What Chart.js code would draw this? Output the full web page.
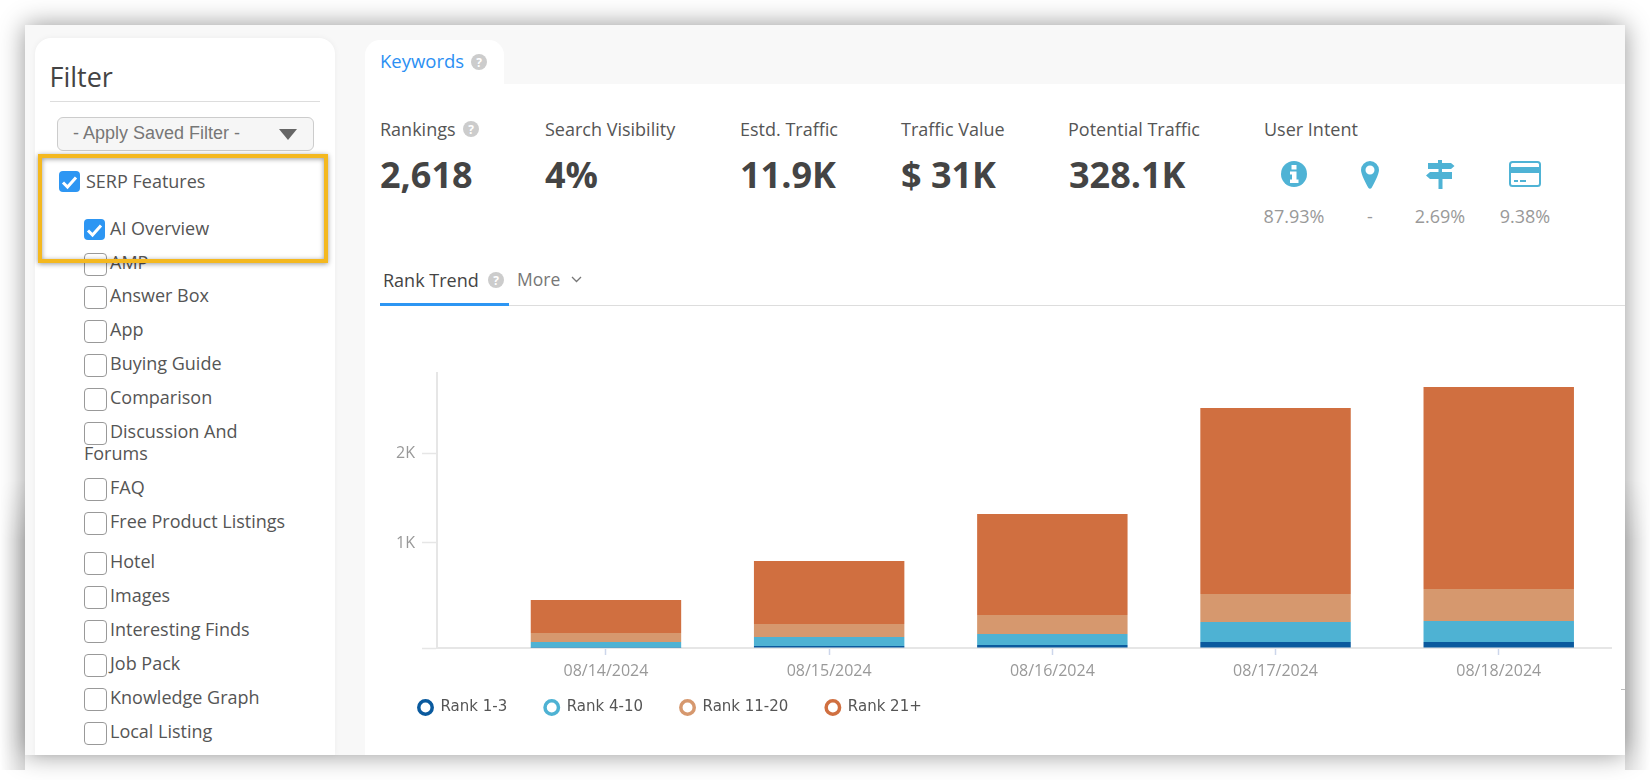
<!DOCTYPE html>
<html>
<head>
<meta charset="utf-8">
<script src="https://cdn.jsdelivr.net/npm/chart.js@4/dist/chart.umd.min.js"></script>
<style>
html,body{margin:0;padding:0;background:#fff;width:1650px;height:780px;overflow:hidden;font-family:"Open Sans",sans-serif;color:#555}
.abs,.abs *{box-sizing:border-box}
.abs{position:absolute}
#card{left:25px;top:25px;width:1600px;height:730px;background:#f8f8f8;box-shadow:0 0 24px rgba(0,0,0,.42)}
#side{left:35px;top:38px;width:300px;height:717px;background:#fff;border-radius:16px 16px 0 0;box-shadow:0 0 6px rgba(0,0,0,.05)}
#main{left:365px;top:84px;width:1260px;height:671px;background:#fff}
#tab{left:365px;top:40px;width:139px;height:44px;background:#fff;border-radius:15px 15px 0 0}
.t{position:absolute;white-space:nowrap;line-height:1}
.cb{position:absolute;width:21px;height:21px;border:1.5px solid #999;border-radius:4px;background:#fff}
.cb.on{background:#2d96f3;border:none}
.cb.on svg{position:absolute;left:2px;top:4px}
.item{font-size:18px;color:#555}
.lab{font-size:18px;color:#555}
.val{font-size:36px;font-weight:700;color:#444}
.pct{font-size:18px;color:#999;transform:translateX(-50%)}
.fade{-webkit-mask-image:linear-gradient(to bottom,transparent,#000 60px);mask-image:linear-gradient(to bottom,transparent,#000 60px)}
canvas{position:absolute;left:381px;top:355px}
</style>
</head>
<body>
<div class="abs fade" id="shadeL" style="left:0;top:480px;width:25px;height:290px;background:linear-gradient(90deg,rgba(0,0,0,0),rgba(0,0,0,.14))"></div>
<div class="abs fade" id="shadeR" style="left:1625px;top:480px;width:25px;height:290px;background:linear-gradient(270deg,rgba(0,0,0,0),rgba(0,0,0,.12))"></div>
<div class="abs" id="card"></div>
<div class="abs" id="side"></div>
<div class="abs" id="main"></div>
<div class="abs" id="tab"></div>

<div class="t" style="left:49.500px;top:63px;font-size:27px;color:#444">Filter</div>
<div class="abs" style="left:50px;top:101px;width:270px;height:1px;background:#ddd"></div>
<div class="abs" style="left:57px;top:117px;width:257px;height:34px;border:1px solid #ccc;border-radius:6px;background:#f6f6f6"></div>
<div class="t" style="left:73px;top:124px;font-family:'Liberation Sans',sans-serif;font-size:18px;color:#777">- Apply Saved Filter -</div>
<svg class="abs" style="left:279px;top:129px" width="18" height="11"><path d="M0 0H18L9 11Z" fill="#666"/></svg>

<div id="filters"></div>

<div class="abs" style="left:38px;top:154px;width:290px;height:109px;border:4px solid #f4b81f;box-shadow:0 1px 5px rgba(0,0,0,.4),inset 0 1px 5px rgba(0,0,0,.4)"></div>

<div class="t" style="left:380px;top:52px;font-size:18.500px;color:#2b8ff3">Keywords</div>
<svg class="abs q" style="left:471px;top:54px" width="16" height="16"><circle cx="8" cy="8" r="8" fill="#ccc"/><text x="8" y="12.5" text-anchor="middle" font-family="Open Sans" font-weight="700" font-size="12" fill="#fff">?</text></svg>

<div class="t lab" style="left:380px;top:120px">Rankings</div>
<svg class="abs q" style="left:463px;top:121px" width="16" height="16"><circle cx="8" cy="8" r="8" fill="#ccc"/><text x="8" y="12.5" text-anchor="middle" font-family="Open Sans" font-weight="700" font-size="12" fill="#fff">?</text></svg>
<div class="t lab" style="left:545px;top:120px">Search Visibility</div>
<div class="t lab" style="left:740px;top:120px">Estd. Traffic</div>
<div class="t lab" style="left:901px;top:120px">Traffic Value</div>
<div class="t lab" style="left:1068px;top:120px">Potential Traffic</div>
<div class="t lab" style="left:1264px;top:120px">User Intent</div>

<div class="t val" style="left:380px;top:157px">2,618</div>
<div class="t val" style="left:545px;top:157px">4%</div>
<div class="t val" style="left:740px;top:157px">11.9K</div>
<div class="t val" style="left:901px;top:157px">$ 31K</div>
<div class="t val" style="left:1069px;top:157px">328.1K</div>

<svg class="abs" style="left:1281px;top:161px" width="26" height="26"><circle cx="13" cy="13" r="13" fill="#4fb3d5"/><rect x="10.5" y="4" width="5" height="4.5" fill="#fff"/><path d="M9 10.5H15.5V18.5H17.5V22H9V18.5H11V13.5H9Z" fill="#fff"/></svg>
<svg class="abs" style="left:1361px;top:161px" width="18" height="28"><path fill-rule="evenodd" d="M9 0a9 9 0 0 1 9 9c0 4-5 14-7.500 18a1.800 1.800 0 0 1-3 0C5 23 0 13 0 9a9 9 0 0 1 9-9Zm0 4.500a4.500 4.500 0 1 0 0 9 4.500 4.500 0 0 0 0-9Z" fill="#4fb3d5"/></svg>
<svg class="abs" style="left:1426px;top:159px" width="29" height="30"><path d="M2 4H12V1H16V4H25L28.500 7L25 10H2ZM4 13H26V20H4L0 16.500ZM12.500 10H16V13H12.500ZM12.500 20H16.500V30H12.500Z" fill="#4fb3d5"/></svg>
<svg class="abs" style="left:1509px;top:161px" width="32" height="26"><rect x="1" y="1" width="30" height="24" rx="2.500" fill="none" stroke="#4fb3d5" stroke-width="2"/><rect x="1" y="6" width="30" height="6" fill="#4fb3d5"/><rect x="5" y="19" width="4" height="2" fill="#4fb3d5"/><rect x="11" y="19" width="6" height="2" fill="#4fb3d5"/></svg>

<div class="t pct" style="left:1294px;top:207px">87.93%</div>
<div class="t pct" style="left:1370px;top:207px">-</div>
<div class="t pct" style="left:1440px;top:207px">2.69%</div>
<div class="t pct" style="left:1525px;top:207px">9.38%</div>

<div class="t" style="left:383px;top:271px;font-size:18px;color:#444">Rank Trend</div>
<svg class="abs q" style="left:488px;top:272px" width="16" height="16"><circle cx="8" cy="8" r="8" fill="#ccc"/><text x="8" y="12.5" text-anchor="middle" font-family="Open Sans" font-weight="700" font-size="12" fill="#fff">?</text></svg>
<div class="t" style="left:517px;top:271px;font-size:17.500px;color:#777">More</div>
<svg class="abs" style="left:571px;top:276px" width="11" height="7"><path d="M1 1L5.500 5.500L10 1" fill="none" stroke="#777" stroke-width="1.300"/></svg>
<div class="abs" style="left:380px;top:305px;width:1245px;height:1px;background:#ddd"></div>
<div class="abs" style="left:380px;top:303px;width:129px;height:3px;background:#2d96f3"></div>
<div class="abs" style="left:1621px;top:689px;width:4px;height:1px;background:#bbb"></div>

<canvas id="chart" width="1244" height="390" style="width:1244px;height:390px"></canvas>

<script>
const dates = ['08/14/2024','08/15/2024','08/16/2024','08/17/2024','08/18/2024'];
const rank1to3 = [2,19,29,57,57];
const rank4to10 = [55,86,104,191,200];
const rank11to20 = [86,124,181,266,305];
const rank21plus = [314,600,1008,1907,2056];
const yTicks = [0,1000,2000];
const seriesNames = ['Rank 1-3','Rank 4-10','Rank 11-20','Rank 21+'];
const seriesColors = ['#0a5a9e','#4eb2d3','#d6986e','#d06f40'];
const filterRows = [
  ['SERP Features',171,59,1],['AI Overview',219,84,1],['AMP',253,84,0],['Answer Box',286,84,0],
  ['App',320,84,0],['Buying Guide',354,84,0],['Comparison',388,84,0],['Discussion And',422,84,0],
  ['FAQ',478,84,0],['Free Product Listings',512,84,0],['Hotel',552,84,0],['Images',586,84,0],
  ['Interesting Finds',620,84,0],['Job Pack',654,84,0],['Knowledge Graph',688,84,0],['Local Listing',722,84,0]
];

const host = document.getElementById('filters');
const tick = '<svg width="17" height="15"><path d="M2 7.500L6.500 12L15 2.500" fill="none" stroke="#fff" stroke-width="3"/></svg>';
filterRows.forEach(([name,top,left,on])=>{
  const serp = on && left < 60 ? 1 : 0;
  host.insertAdjacentHTML('beforeend',
    `<div class="cb ${on?'on':''}" style="left:${left}px;top:${top}px">${on?tick:''}</div>`+
    `<div class="t item" style="left:${left+26+serp}px;top:${top+serp}px">${name}</div>`);
});
host.insertAdjacentHTML('beforeend','<div class="t item" style="left:84px;top:444px">Forums</div>');

/* The reference axis is not evenly spaced: its ticks sit at these shares of the axis height. */
const axisValues = [0,1000,2000,2618,2749];
const axisShares = [0,0.382,0.709,0.949,1];
class StopScale extends Chart.LinearScale {
  static id = 'stops';
  static defaults = Chart.LinearScale.defaults;
  getPixelForValue(v){
    let i = 0;
    while (i < axisValues.length-2 && v > axisValues[i+1]) i++;
    const f = (v-axisValues[i])/(axisValues[i+1]-axisValues[i]);
    return this.getPixelForDecimal(axisShares[i]+f*(axisShares[i+1]-axisShares[i]));
  }
  getValueForPixel(p){
    const d = this.getDecimalForPixel(p);
    let i = 0;
    while (i < axisShares.length-2 && d > axisShares[i+1]) i++;
    const f = (d-axisShares[i])/(axisShares[i+1]-axisShares[i]);
    return axisValues[i]+f*(axisValues[i+1]-axisValues[i]);
  }
}
Chart.register(StopScale);

/* The legend row sits beside the date labels, closer to the axis than its own padding allows. */
const legendLift = {
  id:'legendLift',
  afterLayout(chart){ chart.legend.top -= 20; chart.legend.bottom -= 20; }
};

const allSeries = [rank1to3,rank4to10,rank11to20,rank21plus];
new Chart(document.getElementById('chart'),{
  type:'bar',
  plugins:[legendLift],
  data:{
    labels:dates,
    datasets:allSeries.map((vals,s)=>({
      label:seriesNames[s],
      data:vals.map((y,i)=>({x:i,y})),
      backgroundColor:seriesColors[s],
      borderWidth:0,
      categoryPercentage:1,
      barPercentage:0.674
    }))
  },
  options:{
    responsive:false,
    animation:false,
    layout:{padding:{top:18,right:14,left:0,bottom:0}},
    plugins:{
      tooltip:{enabled:false},
      legend:{
        position:'bottom',
        align:'start',
        labels:{
          usePointStyle:true,
          pointStyle:'circle',
          boxWidth:17,
          boxHeight:9.5,
          padding:37,
          color:'#555',
          font:{family:'DejaVu Sans',size:15},
          generateLabels(chart){
            return Chart.defaults.plugins.legend.labels.generateLabels(chart).map(l=>({
              ...l,fillStyle:'#fff',strokeStyle:seriesColors[l.datasetIndex],lineWidth:3.5,pointStyle:'circle'
            }));
          }
        }
      }
    },
    scales:{
      x:{
        type:'linear',
        stacked:true,
        min:-0.757,
        max:4.503,
        offset:false,
        afterBuildTicks(scale){scale.ticks = dates.map((_,i)=>({value:i}));},
        afterFit(scale){scale.height = 35;},
        grid:{offset:false,drawOnChartArea:false,drawTicks:true,tickLength:7,tickColor:'#ccd6eb',tickWidth:1.5},
        border:{color:'#e6e6e6',width:2},
        ticks:{
          autoSkip:false,maxRotation:0,padding:7,color:'#999',
          font:{family:'Open Sans',size:16},
          callback:v=>dates[v]
        }
      },
      y:{
        type:'stops',
        stacked:true,
        min:0,
        max:2749,
        afterBuildTicks(scale){scale.ticks = yTicks.map(value=>({value}));},
        afterFit(scale){scale.width = 56;},
        grid:{drawOnChartArea:false,drawTicks:true,tickLength:15,tickColor:'#e6e6e6',tickWidth:1.5},
        border:{color:'#e6e6e6',width:2},
        ticks:{
          padding:7,color:'#999',
          font:{family:'Open Sans',size:16},
          callback:v=>v===0?'':(v/1000)+'K'
        }
      }
    }
  }
});
</script>
</body>
</html>
